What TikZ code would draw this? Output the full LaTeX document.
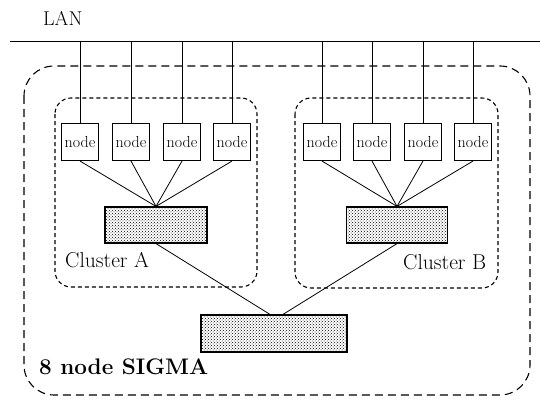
\documentclass[tikz,border=0pt]{standalone}
\usetikzlibrary{patterns}
\tikzset{
  nodebox/.style={draw,line width=1.1pt,minimum width=37pt,minimum height=37pt,
    inner sep=0pt,font=\fontsize{16}{18}\selectfont},
  hub/.style={draw,line width=1.2pt,pattern=crosshatch dots,inner sep=0pt},
  cluster/.style={line width=1.1pt,dash pattern=on 4pt off 3pt,rounded corners=16pt},
  outerbox/.style={line width=1.1pt,dash pattern=on 8pt off 5pt,rounded corners=30pt},
  link/.style={line width=0.8pt},
  caption/.style={anchor=base west,inner sep=0pt}
}
\begin{document}
\begin{tikzpicture}[x=1pt,y=-1pt]
  \useasboundingbox (0,0) rectangle (540,401);
  % LAN bus
  \draw[link] (10,41) -- (540,41);
  \node[caption,font=\fontsize{20}{22}\selectfont] (lanlabel) at (43,26) {LAN};
  % enclosures
  \draw[outerbox] (24,66) rectangle (530,395);
  \draw[cluster] (55,98) rectangle (257,287);
  \draw[cluster] (295,98) rectangle (498,288);
  % nodes of both clusters
  \foreach \i/\x in {1/80, 2/131, 3/182, 4/232, 5/322, 6/372, 7/423, 8/473} {
    \coordinate (lan\i) at (\x,41);
    \node[nodebox] (n\i) at (\x,142) {node};
    \draw[link] (lan\i) -- (n\i);
  }
  % switches
  \node[hub,minimum width=102pt,minimum height=36pt] (hubA) at (156,225) {};
  \node[hub,minimum width=101pt,minimum height=36pt] (hubB) at (397,225) {};
  \node[hub,minimum width=146pt,minimum height=37pt] (sigma) at (274,333.5) {};
  \foreach \i in {1,2,3,4} {
    \draw[link] (n\i.south) -- (hubA.north);
  }
  \foreach \i in {5,6,7,8} {
    \draw[link] (n\i.south) -- (hubB.north);
  }
  \draw[link] (hubA.south) -- ([xshift=-4pt]sigma.north);
  \draw[link] (hubB.south) -- ([xshift=9pt]sigma.north);
  % labels
  \node[caption,font=\fontsize{21.5}{24}\selectfont] (clA) at (65,267) {Cluster A};
  \node[caption,font=\fontsize{21.5}{24}\selectfont] (clB) at (403,269) {Cluster B};
  \node[caption,font=\fontsize{22.5}{26}\selectfont\bfseries] (sigmalabel) at (39,374) {8 node SIGMA};
\end{tikzpicture}
\end{document}
